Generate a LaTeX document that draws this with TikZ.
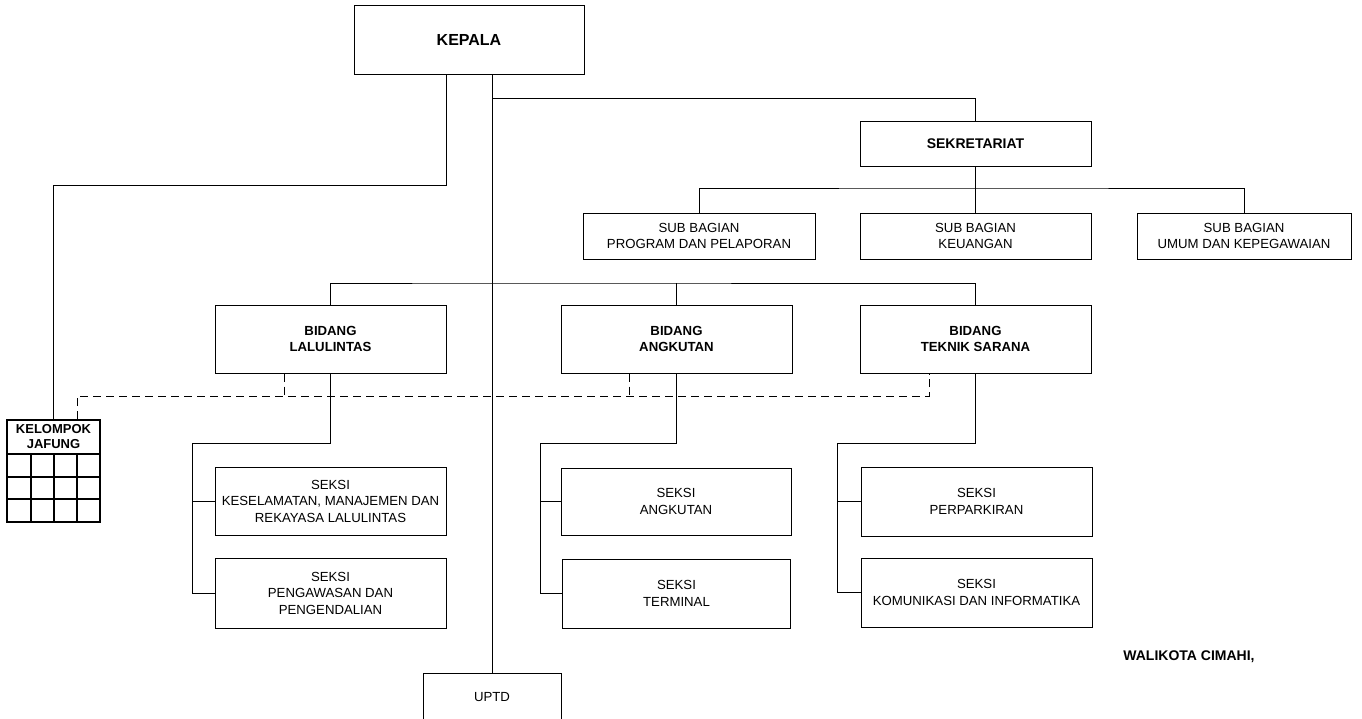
\documentclass[tikz,border=0pt]{standalone}
\usepackage{fontspec}
\setmainfont{Liberation Sans}
\begin{document}
\begin{tikzpicture}[x=1pt,y=-1pt,
  box/.style={draw,line width=1pt,inner sep=0pt,align=center,font=\fontsize{13.2}{16.5}\selectfont},
  bbox/.style={box,font=\fontsize{13.2}{16.5}\selectfont\bfseries},
  conn/.style={line width=0.9pt},
  dl/.style={line width=0.9pt,dash pattern=on 8pt off 5pt},
  grid/.style={line width=1.8pt}]
\useasboundingbox (0,0) rectangle (1362,718);
% top
\node[box,minimum width=230,minimum height=69,font=\fontsize{16}{18}\selectfont\bfseries] (kepala) at (469,39.5) {KEPALA};
\node[box,minimum width=231,minimum height=45,font=\fontsize{14}{16}\selectfont\bfseries] (sekre) at (975.5,143.5) {SEKRETARIAT};
% sub bagian
\node[box,minimum width=232,minimum height=46] (sub1) at (699,236) {SUB BAGIAN\\PROGRAM DAN PELAPORAN};
\node[box,minimum width=231,minimum height=46] (sub2) at (975.5,236) {SUB BAGIAN\\KEUANGAN};
\node[box,minimum width=214,minimum height=46] (sub3) at (1244,236) {SUB BAGIAN\\UMUM DAN KEPEGAWAIAN};
% bidang
\node[bbox,minimum width=231,minimum height=68] (lal) at (330.5,339) {BIDANG\\LALULINTAS};
\node[bbox,minimum width=231,minimum height=68] (ang) at (676.5,339) {BIDANG\\ANGKUTAN};
\node[bbox,minimum width=231,minimum height=68] (tek) at (975.5,339) {BIDANG\\TEKNIK SARANA};
% seksi
\node[box,minimum width=231,minimum height=68] (s1) at (330.5,501) {SEKSI\\KESELAMATAN, MANAJEMEN DAN\\REKAYASA LALULINTAS};
\node[box,minimum width=231,minimum height=70] (s2) at (330.5,593) {SEKSI\\PENGAWASAN DAN\\PENGENDALIAN};
\node[box,minimum width=230,minimum height=67] (s3) at (676,501.5) {SEKSI\\ANGKUTAN};
\node[box,minimum width=228,minimum height=69] (s4) at (676.5,593.5) {SEKSI\\TERMINAL};
\node[box,minimum width=231,minimum height=69] (s5) at (976.5,501.5) {SEKSI\\PERPARKIRAN};
\node[box,minimum width=231,minimum height=69] (s6) at (976.5,592.5) {SEKSI\\KOMUNIKASI DAN INFORMATIKA};
% uptd
\node[box,minimum width=138,minimum height=48] (uptd) at (492,697) {UPTD};
% walikota
\node[font=\fontsize{14}{16}\selectfont\bfseries] (wali) at (1189,657) {WALIKOTA CIMAHI,};
% kelompok jafung
\node[draw,grid,minimum width=93,minimum height=102,inner sep=0pt] (kj) at (53.5,471) {};
\node[font=\fontsize{13}{15}\selectfont\bfseries,align=center,inner sep=0pt] (kjt) at (53.5,436.5) {KELOMPOK\\JAFUNG};
\draw[grid] (7,454) -- (100,454) (7,477) -- (100,477) (7,499) -- (100,499);
\draw[grid] (31,454) -- (31,522) (54,454) -- (54,522) (77,454) -- (77,522);
% connectors
\coordinate (m1) at (492,98);
\coordinate (bj) at (492,283);
\coordinate (sbj) at (975.5,188);
\draw[conn] ([xshift=23pt]kepala.south) -- (uptd.north);
\draw[conn] (m1) -| (sekre.north);
\draw[conn] ([xshift=-23pt]kepala.south) -- ++(0,111) -| (kj.north);
\draw[conn] (sekre.south) -- (sub2.north);
\draw[conn] (sub1.north) |- (sbj) -| (sub3.north);
\draw[conn] (lal.north) |- (bj) -| (tek.north);
\draw[conn] (ang.north) -- (ang.north |- bj);
% seksi connectors
\coordinate (lv) at (192,443);
\coordinate (av) at (540,443);
\coordinate (tv) at (837,443);
\draw[conn] (lal.south) |- (lv) |- (s2.west);
\draw[conn] (lv |- s1.west) -- (s1.west);
\draw[conn] (ang.south) |- (av) |- (s4.west);
\draw[conn] (av |- s3.west) -- (s3.west);
\draw[conn] (tek.south) |- (tv) |- (s6.west);
\draw[conn] (tv |- s5.west) -- (s5.west);
% dashed
\draw[dl] ([xshift=23.5pt]kj.north) -- ++(0,-23) -| ([xshift=-46.5pt]tek.south);
\draw[dl] ([xshift=-46.5pt]lal.south) -- ++(0,24);
\draw[dl] ([xshift=-47.5pt]ang.south) -- ++(0,24);
\end{tikzpicture}
\end{document}
